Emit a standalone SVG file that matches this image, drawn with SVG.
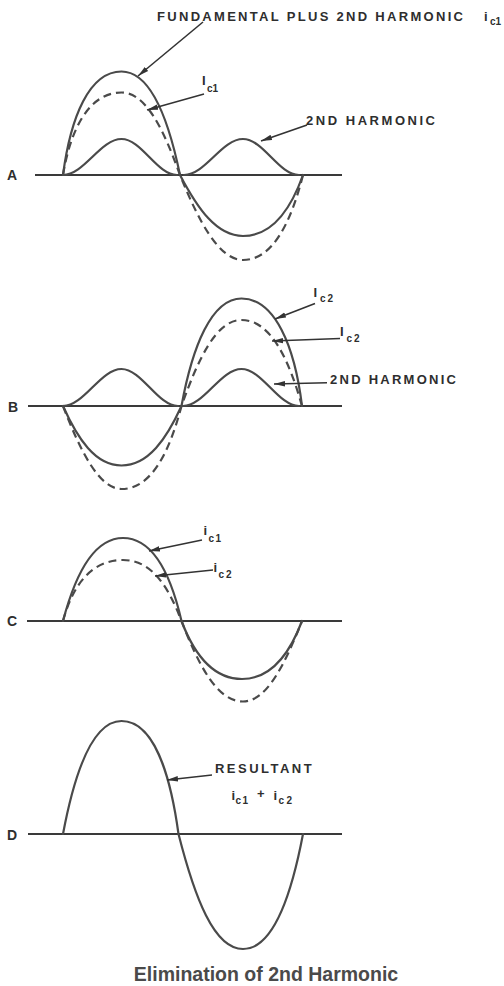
<svg xmlns="http://www.w3.org/2000/svg" width="504" height="986" viewBox="0 0 504 986">
<style>
.ax{stroke:#3a3a3a;stroke-width:2;fill:none}
.cv{stroke:#4a4a4a;stroke-width:2.2;fill:none;stroke-linecap:round}
.ds{stroke:#4a4a4a;stroke-width:2.2;fill:none;stroke-dasharray:8 5}
.ld{stroke:#333;stroke-width:1.6;fill:none;marker-end:url(#ah)}
.t{font-family:"Liberation Sans",Arial,sans-serif;font-weight:bold;fill:#2e2e2e;font-size:13px}
.p{font-family:"Liberation Sans",Arial,sans-serif;font-weight:bold;fill:#2e2e2e;font-size:14px}
.s{font-family:"Liberation Sans",Arial,sans-serif;font-weight:bold;fill:#2e2e2e;font-size:10px}
.cap{font-family:"Liberation Sans",Arial,sans-serif;font-weight:bold;fill:#4a4a4a;font-size:19.5px}
</style>
<defs>
<marker id="ah" markerUnits="userSpaceOnUse" markerWidth="12" markerHeight="8" refX="11" refY="3.5" orient="auto">
<path d="M0,0.8 L11,3.5 L0,6.2 z" fill="#333"/>
</marker>
</defs>
<rect width="504" height="986" fill="#fff"/>

<g id="panel-A">
<text class="p" x="7" y="180">A</text>
<line class="ax" x1="35" y1="175" x2="342" y2="175"/>
<path class="cv" d="M63,175 C70.6,117 89.3,71.5 121.5,71.5 C150.8,71.5 168.3,118.1 180,175 C197.6,208.6 216.5,236 243,236 C273,236 291,208.6 303,175"/>
<path class="ds" d="M63,175 C70.6,128.8 89.3,92.5 121.5,92.5 C146.1,92.5 163.6,129.6 180,175 C198.9,221.8 219.1,260 243,260 C273,260 291,221.8 303,175"/>
<path class="cv" d="M63,175 C84,175 100.5,139 121.5,139 C141.5,139 157,175 177,175"/>
<path class="cv" d="M184,175 C205.2,175 221.8,139 243,139 C263.2,139 278.8,175 299,175"/>
</g>

<g id="panel-B">
<text class="p" x="8" y="411.5">B</text>
<line class="ax" x1="28" y1="406" x2="342" y2="406"/>
<path class="cv" d="M63,406 C77.6,438.7 95.2,465.5 121.5,465.5 C148.5,465.5 166.5,438.7 181.5,406 C192.3,346.9 211.5,298.5 241.5,298.5 C274.8,298.5 294.7,345.8 302,406"/>
<path class="ds" d="M63,406 C80.6,451.7 99.3,489 121.5,489 C151.5,489 169.5,451.7 181.5,406 C198.3,358.7 216.3,320 241.5,320 C270.5,320 288.7,358.7 302,406"/>
<path class="cv" d="M63,406 C84,406 100.5,369 121.5,369 C141.8,369 157.7,406 178,406"/>
<path class="cv" d="M183,406 C204,406 220.5,369 241.5,369 C262.2,369 278.3,406 299,406"/>
</g>

<g id="panel-C">
<text class="p" x="7" y="626">C</text>
<line class="ax" x1="27" y1="621" x2="342" y2="621"/>
<path class="cv" d="M63,621 C75,575.4 93,538 123,538 C153.4,538 171,575.4 181.5,621 C193.6,652.9 211.8,679 242,679 C272,679 290,652.9 302,621"/>
<path class="ds" d="M63,621 C72,587.5 90,560 123,560 C152.3,560 168.6,587.5 181.5,621 C198.7,665.3 217.2,701.5 243,701.5 C266.6,701.5 284.3,665.3 302,621"/>
</g>

<g id="panel-D">
<text class="p" x="7" y="839.5">D</text>
<line class="ax" x1="28" y1="834" x2="342" y2="834"/>
<path class="cv" d="M63,834 C74.7,771.9 92.3,721 121.5,721 C152.9,721 170,771.9 178.5,834 C194.6,897.3 214,949 243,949 C273,949 291,897.3 303,834"/>
</g>

<g id="connectors">
<line class="ld" x1="203" y1="22" x2="138" y2="76"/>
<line class="ld" x1="204" y1="94" x2="147" y2="110"/>
<line class="ld" x1="307" y1="125" x2="261" y2="141"/>
<line class="ld" x1="315" y1="303.5" x2="275" y2="319"/>
<line class="ld" x1="340" y1="338.5" x2="272" y2="341"/>
<line class="ld" x1="327" y1="382.7" x2="274" y2="384"/>
<line class="ld" x1="202" y1="540" x2="149" y2="551"/>
<line class="ld" x1="213" y1="570" x2="155" y2="576"/>
<line class="ld" x1="212" y1="775" x2="167" y2="780"/>
</g>

<g id="label-fundamental">
<text class="t" x="157" y="20.7" font-size="12.5" textLength="306" lengthAdjust="spacing">FUNDAMENTAL PLUS 2ND HARMONIC</text>
<text class="t" x="484" y="21">i</text>
<text class="s" x="490" y="25">c1</text>
</g>
<g id="label-A-ic1">
<text class="t" x="202" y="85">I</text>
<text class="s" x="207" y="91.5">c1</text>
</g>
<g id="label-A-2nd">
<text class="t" x="306" y="124.5" textLength="129" lengthAdjust="spacing">2ND HARMONIC</text>
</g>
<g id="label-B-ic2a">
<text class="t" x="313.5" y="297">I</text>
<text class="s" x="320" y="301.7" letter-spacing="2">c2</text>
</g>
<g id="label-B-ic2b">
<text class="t" x="340" y="336">I</text>
<text class="s" x="346.5" y="341.7" letter-spacing="2">c2</text>
</g>
<g id="label-B-2nd">
<text class="t" x="330" y="383.5" textLength="126" lengthAdjust="spacing">2ND HARMONIC</text>
</g>
<g id="label-C-ic1">
<text class="t" x="203.5" y="535">i</text>
<text class="s" x="208.5" y="541.7" letter-spacing="1.5">c1</text>
</g>
<g id="label-C-ic2">
<text class="t" x="213.5" y="571.5">i</text>
<text class="s" x="218.5" y="578.3" letter-spacing="2">c2</text>
</g>
<g id="label-D-resultant">
<text class="t" x="215" y="772.7" textLength="96.7" lengthAdjust="spacing">RESULTANT</text>
<text class="t" x="231.5" y="800">i</text>
<text class="s" x="235.5" y="803.5" letter-spacing="1.5">c1</text>
<text class="t" x="257" y="798">+</text>
<text class="t" x="273.5" y="800">i</text>
<text class="s" x="278.5" y="803.5" letter-spacing="2.5">c2</text>
</g>
<g id="caption">
<text class="cap" x="266" y="981" text-anchor="middle">Elimination of 2nd Harmonic</text>
</g>
</svg>
